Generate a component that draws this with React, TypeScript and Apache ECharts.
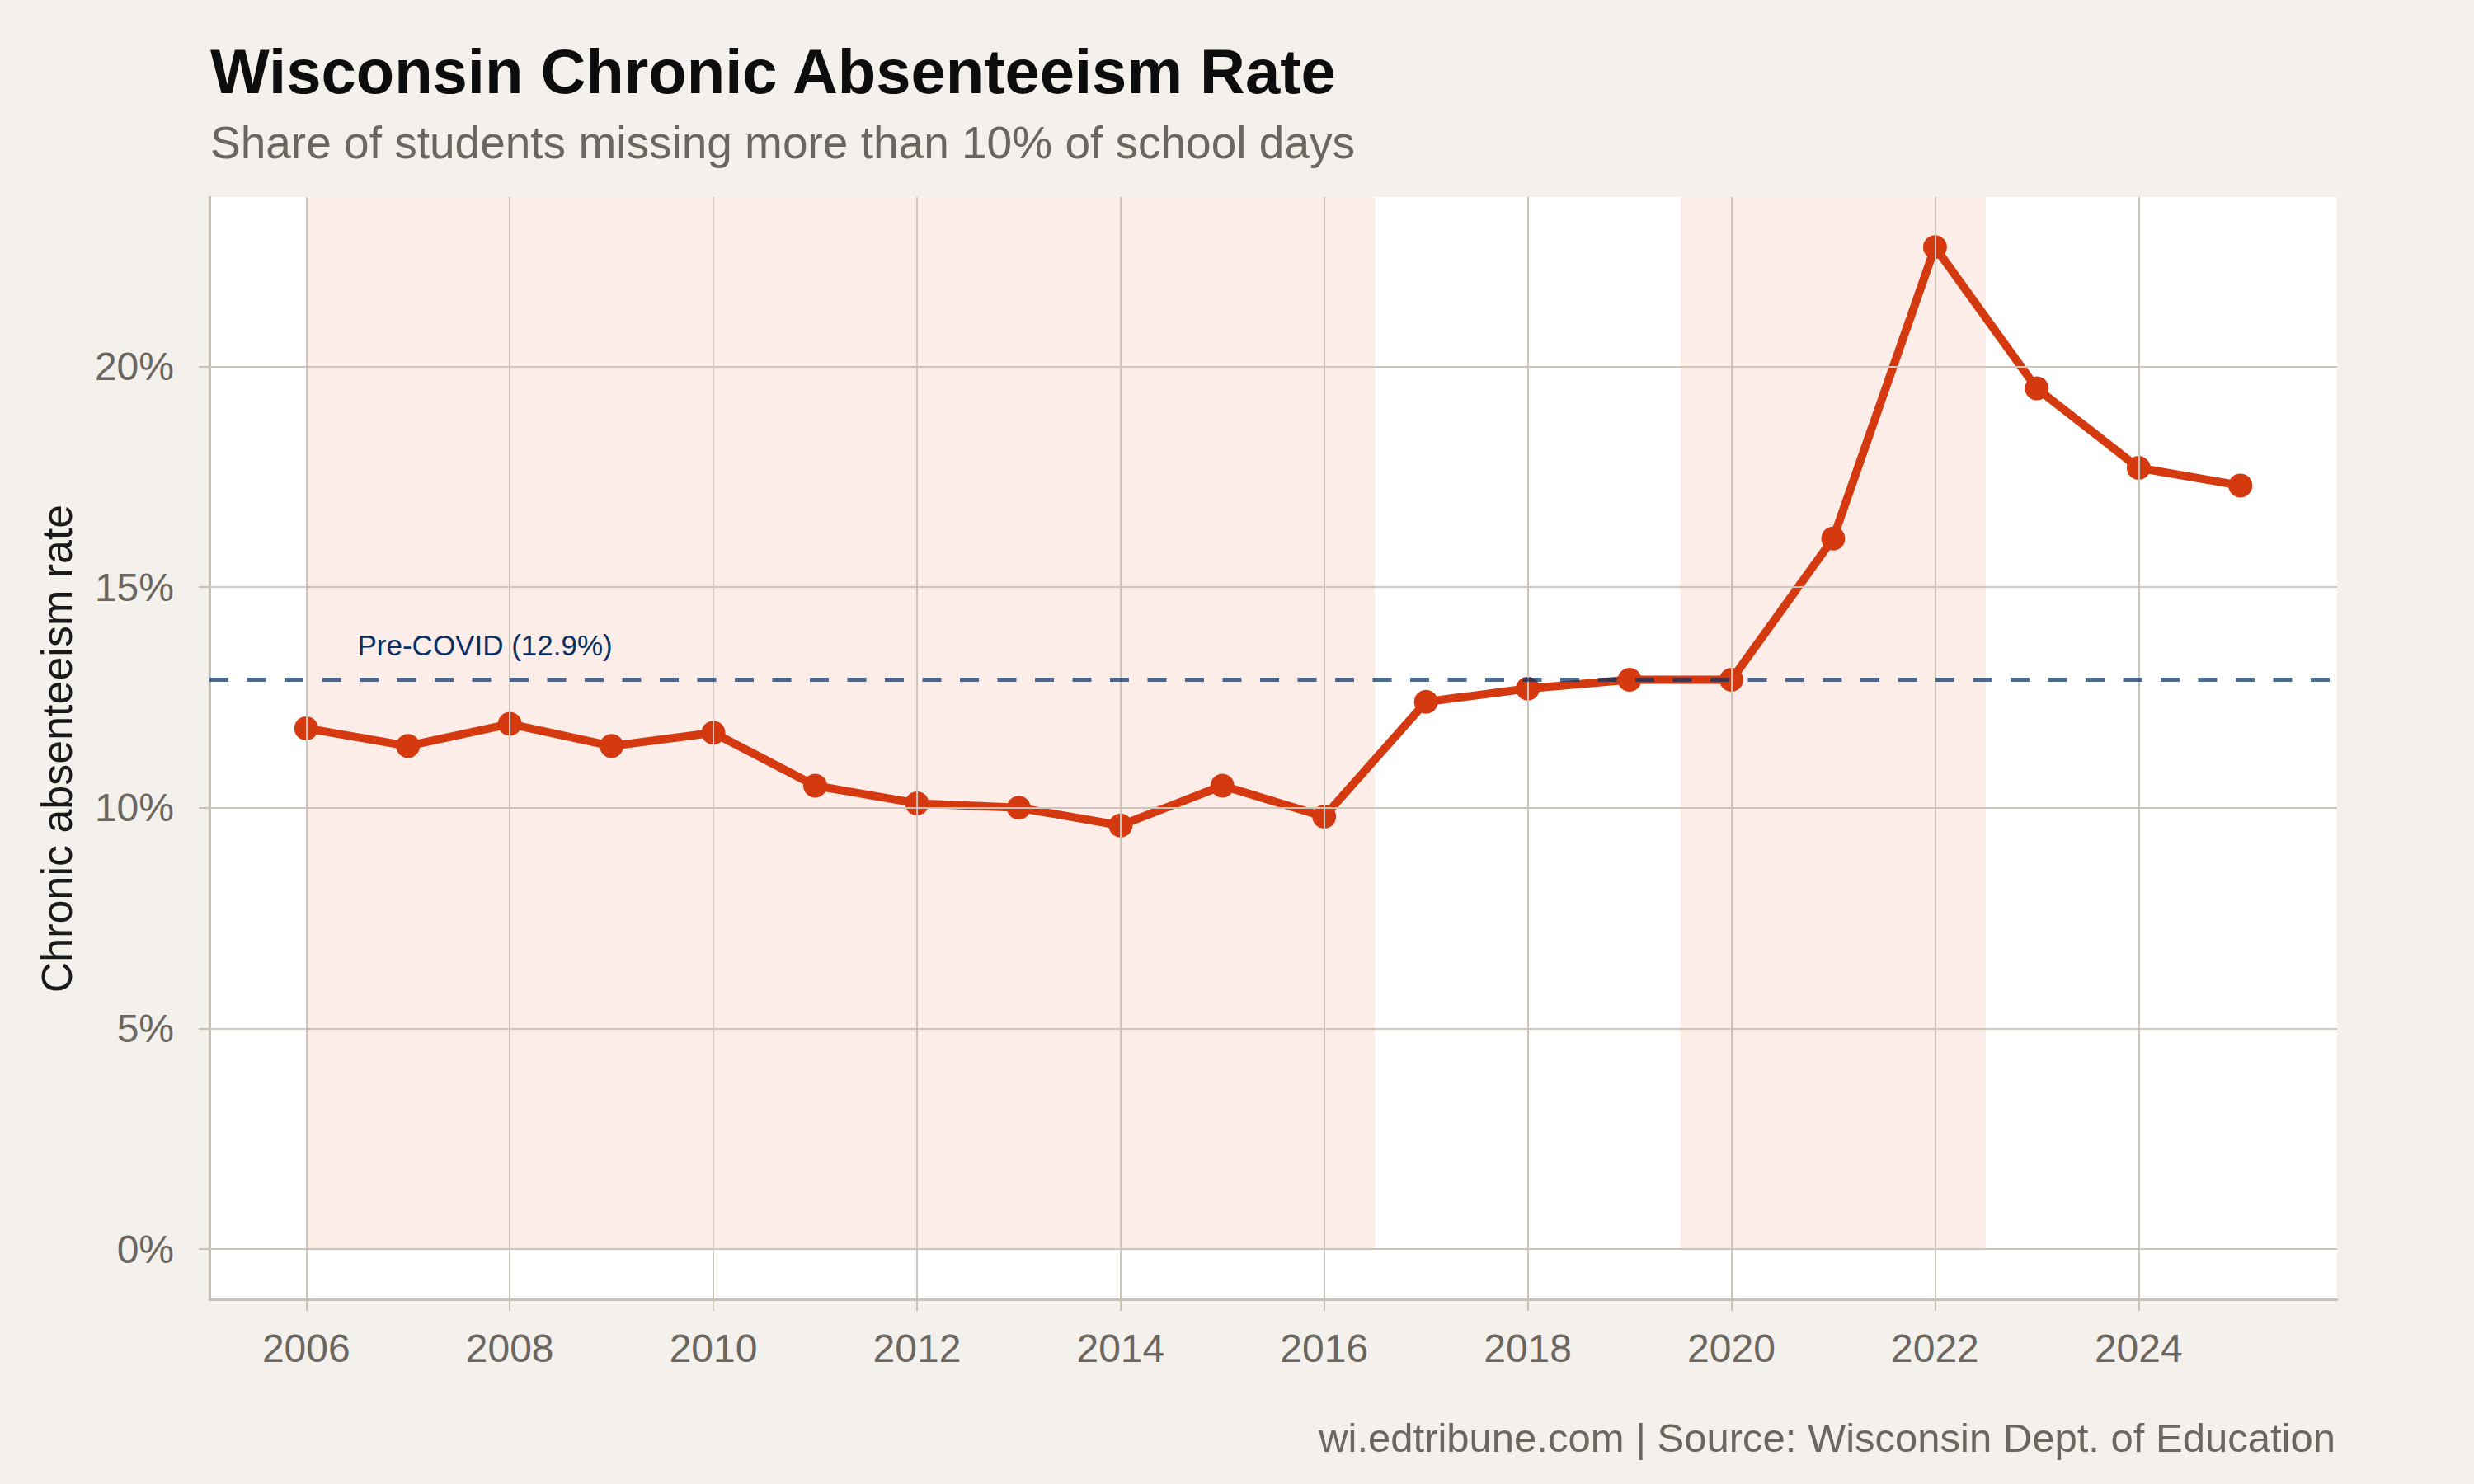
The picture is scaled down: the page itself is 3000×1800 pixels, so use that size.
import React, { useEffect, useRef } from 'react';
import * as echarts from 'echarts';

// chronic absenteeism, share of students (%)
const years = [2006, 2007, 2008, 2009, 2010, 2011, 2012, 2013, 2014, 2015, 2016, 2017, 2018, 2019, 2020, 2021, 2022, 2023, 2024, 2025];
const rates = [11.8, 11.4, 11.9, 11.4, 11.7, 10.5, 10.1, 10.0, 9.6, 10.5, 9.8, 12.4, 12.7, 12.9, 12.9, 16.1, 22.7, 19.5, 17.7, 17.3];

const xTicks = [2006, 2008, 2010, 2012, 2014, 2016, 2018, 2020, 2022, 2024];
const yTicks = [0, 5, 10, 15, 20];

const preCovid = 12.9;
const preCovidLabelYear = 2006.5;

// shaded periods
const shadeStarts = [2006, 2019.5];
const shadeEnds = [2016.5, 2022.5];

const X_MIN = 2005.05;
const X_MAX = 2025.95;
const Y_MIN = -1.135;
const Y_MAX = 23.835;

const FONT = '"Liberation Sans", Arial, Helvetica, sans-serif';
const BG = '#f4f1ec';
const GRID = '#cdc4ba';
const AXIS = '#c9c1b6';
const GREY_TEXT = '#6b6660';
const RED = '#d4390f';
const NAVY = '#083064';

export default function App() {
    const chartRef = useRef<HTMLDivElement>(null);

    useEffect(() => {
        const chart = echarts.init(chartRef.current!, null, { renderer: 'svg' });

        chart.setOption({
            animation: false,
            backgroundColor: BG,
            textStyle: { fontFamily: FONT },
            grid: {
                left: 254,
                right: 166,
                top: 239,
                bottom: 224,
                show: true,
                backgroundColor: '#ffffff',
                borderWidth: 0,
                outerBoundsMode: 'none',
            },
            xAxis: {
                type: 'value',
                min: X_MIN,
                max: X_MAX,
                splitLine: { show: false },
                axisLine: { onZero: false, lineStyle: { color: AXIS, width: 3 } },
                axisTick: { show: true, customValues: xTicks, length: 14, lineStyle: { color: AXIS, width: 2 } },
                axisLabel: {
                    customValues: xTicks,
                    margin: 35,
                    color: GREY_TEXT,
                    fontSize: 48,
                    fontFamily: FONT,
                    formatter: (v: number) => String(v),
                },
            },
            yAxis: {
                type: 'value',
                min: Y_MIN,
                max: Y_MAX,
                splitLine: { show: false },
                axisLine: { show: true, onZero: false, lineStyle: { color: AXIS, width: 3 } },
                axisTick: { show: true, customValues: yTicks, length: 13, lineStyle: { color: AXIS, width: 2 } },
                axisLabel: {
                    customValues: yTicks,
                    margin: 43,
                    color: GREY_TEXT,
                    fontSize: 48,
                    fontFamily: FONT,
                    formatter: (v: number) => `${v}%`,
                },
            },
            graphic: [
                {
                    type: 'text',
                    x: 255,
                    y: 86,
                    style: {
                        text: 'Wisconsin Chronic Absenteeism Rate',
                        fill: '#0d0d0d',
                        font: `bold 76px ${FONT}`,
                        align: 'left',
                        verticalAlign: 'middle',
                    },
                },
                {
                    type: 'text',
                    x: 255,
                    y: 173,
                    style: {
                        text: 'Share of students missing more than 10% of school days',
                        fill: GREY_TEXT,
                        font: `55px ${FONT}`,
                        align: 'left',
                        verticalAlign: 'middle',
                    },
                },
                {
                    type: 'text',
                    x: 69,
                    y: 908,
                    rotation: Math.PI / 2,
                    style: {
                        text: 'Chronic absenteeism rate',
                        fill: '#1a1a1a',
                        font: `52px ${FONT}`,
                        align: 'center',
                        verticalAlign: 'middle',
                    },
                },
                {
                    type: 'text',
                    x: 2832,
                    y: 1744,
                    style: {
                        text: 'wi.edtribune.com | Source: Wisconsin Dept. of Education',
                        fill: GREY_TEXT,
                        font: `49px ${FONT}`,
                        align: 'right',
                        verticalAlign: 'middle',
                    },
                },
            ],
            series: [
                {
                    name: 'shade',
                    type: 'line',
                    data: [],
                    silent: true,
                    z: 1,
                    markArea: {
                        silent: true,
                        itemStyle: { color: '#fcede9' },
                        data: shadeStarts.map((s, i) => [
                            { xAxis: s, yAxis: 0 },
                            { xAxis: shadeEnds[i], yAxis: Y_MAX },
                        ]),
                    },
                },
                {
                    name: 'gridlines',
                    type: 'line',
                    data: [],
                    silent: true,
                    z: 2,
                    markLine: {
                        silent: true,
                        symbol: ['none', 'none'],
                        label: { show: false },
                        lineStyle: { color: GRID, width: 2, type: 'solid' },
                        data: [
                            ...xTicks.map((x) => ({ xAxis: x })),
                            ...yTicks.map((y) => ({ yAxis: y })),
                        ],
                    },
                },
                {
                    name: 'rate',
                    type: 'line',
                    z: 3,
                    data: years.map((y, i) => [y, rates[i]]),
                    symbol: 'circle',
                    symbolSize: 29,
                    itemStyle: { color: RED },
                    lineStyle: { color: RED, width: 10 },
                    silent: true,
                },
                {
                    name: 'precovid',
                    type: 'line',
                    data: [],
                    silent: true,
                    z: 4,
                    markLine: {
                        silent: true,
                        symbol: ['none', 'none'],
                        label: { show: false },
                        lineStyle: { color: 'rgba(8,48,100,0.72)', width: 5, type: [23, 22.5] },
                        data: [{ yAxis: preCovid }],
                    },
                    markPoint: {
                        silent: true,
                        symbol: 'circle',
                        symbolSize: 1,
                        itemStyle: { color: 'rgba(0,0,0,0)' },
                        data: [
                            {
                                coord: [preCovidLabelYear, preCovid],
                                label: {
                                    show: true,
                                    position: 'right',
                                    distance: 0,
                                    offset: [0, -42],
                                    formatter: `Pre-COVID (${preCovid}%)`,
                                    color: NAVY,
                                    fontSize: 35,
                                    fontFamily: FONT,
                                },
                            },
                        ],
                    },
                },
            ],
        });

        return () => {
            chart.dispose();
        };
    }, []);

    return <div ref={chartRef} style={{ position: 'fixed', left: 0, top: 0, width: 3000, height: 1800 }} />;
}
